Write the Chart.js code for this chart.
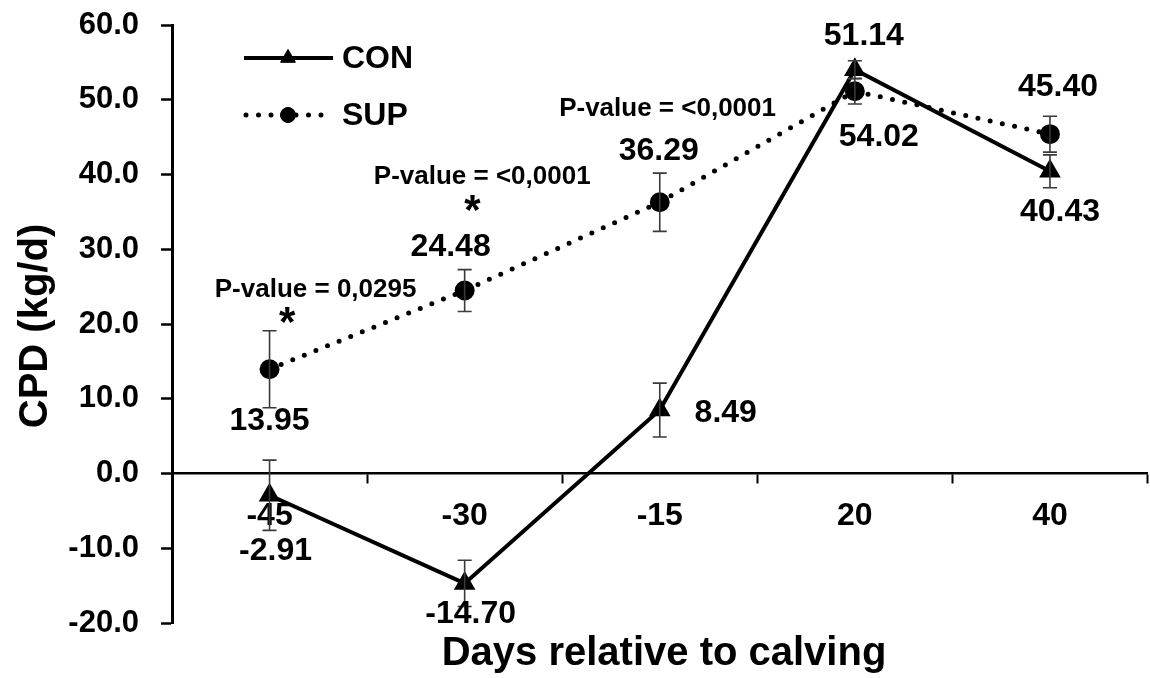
<!DOCTYPE html>
<html>
<head>
<meta charset="utf-8">
<title>CPD by days relative to calving</title>
<script src="https://cdn.jsdelivr.net/npm/chart.js@4.4.1/dist/chart.umd.min.js"></script>
<style>
  html, body { margin: 0; padding: 0; background: #fff; overflow: hidden; }
  #wrap { width: 1160px; height: 678px; }
</style>
</head>
<body>
<div id="wrap"><canvas id="cpd" width="1160" height="678"></canvas></div>
<script>
// ---- data ----
const days = ['-45', '-30', '-15', '20', '40'];
const conMean = [-2.91, -14.70, 8.49, 54.02, 40.43];
const supMean = [13.95, 24.48, 36.29, 51.14, 45.40];
const conErr = [4.7, 3.1, 3.6, 1.2, 2.2];
const supErr = [5.15, 2.8, 3.9, 1.7, 2.4];
const yTicks = [-20, -10, 0, 10, 20, 30, 40, 50, 60];
const pValueText = ['P-value = 0,0295', 'P-value = <0,0001', 'P-value = <0,0001'];

// ---- placement of value labels (pixel offsets from each point) ----
const conLabelOffset = [[6, 56], [6, 31], [66, 3], [24, 67], [10, 41]];
const supLabelOffset = [[0, 52], [-14, -43], [-1, -51], [9, -55], [8, -47]];
// P-value notes and stars: [category position, y value]
const pValuePos = [[0.236, 24.6], [1.09, 39.7], [2.04, 48.8]];
const starPos = [[0.09, 21.0], [1.04, 36.0]];

const FONT = '"Liberation Sans", Arial, Helvetica, sans-serif';
const INK = '#000';

const errorBars = {
  id: 'errorBars',
  afterDatasetsDraw(chart) {
    const { ctx, scales: { x, y } } = chart;
    const sets = [[conMean, conErr], [supMean, supErr]];
    ctx.save();
    ctx.strokeStyle = '#3a3a3a';
    ctx.lineWidth = 1.6;
    sets.forEach(([m, e]) => {
      m.forEach((v, i) => {
        const px = x.getPixelForValue(i);
        const top = y.getPixelForValue(v + e[i]);
        const bot = y.getPixelForValue(v - e[i]);
        ctx.beginPath();
        ctx.moveTo(px, top); ctx.lineTo(px, bot);
        ctx.moveTo(px - 7, top); ctx.lineTo(px + 7, top);
        ctx.moveTo(px - 7, bot); ctx.lineTo(px + 7, bot);
        ctx.stroke();
      });
    });
    ctx.restore();
  }
};

const textLayer = {
  id: 'textLayer',
  afterDraw(chart) {
    const { ctx, scales: { x, y } } = chart;
    ctx.save();
    ctx.fillStyle = INK;
    ctx.textAlign = 'center';
    ctx.textBaseline = 'middle';

    // value labels
    ctx.font = 'bold 32px ' + FONT;
    conMean.forEach((v, i) => {
      const [dx, dy] = conLabelOffset[i];
      ctx.fillText(v.toFixed(2), x.getPixelForValue(i) + dx, y.getPixelForValue(v) + dy);
    });
    supMean.forEach((v, i) => {
      const [dx, dy] = supLabelOffset[i];
      ctx.fillText(v.toFixed(2), x.getPixelForValue(i) + dx, y.getPixelForValue(v) + dy);
    });

    // P-value notes and significance stars
    ctx.font = 'bold 26px ' + FONT;
    pValueText.forEach((t, i) => {
      const [cx, cy] = pValuePos[i];
      ctx.fillText(t, x.getPixelForValue(cx), y.getPixelForValue(cy));
    });
    ctx.font = 'bold 42px ' + FONT;
    starPos.forEach(([cx, cy]) => {
      ctx.fillText('*', x.getPixelForValue(cx), y.getPixelForValue(cy) + 8);
    });

    // axis titles
    ctx.font = 'bold 40px ' + FONT;
    ctx.fillText('Days relative to calving', 664, 654);
    ctx.save();
    ctx.translate(36, 326);
    ctx.rotate(-Math.PI / 2);
    ctx.fillText('CPD (kg/d)', 0, 0);
    ctx.restore();

    // legend
    const ds = chart.data.datasets;
    const rows = [58, 115];
    ds.forEach((d, i) => {
      const ly = rows[i];
      ctx.save();
      ctx.strokeStyle = d.borderColor;
      ctx.lineWidth = d.borderWidth;
      ctx.lineCap = d.borderCapStyle || 'butt';
      ctx.setLineDash(d.borderDash || []);
      ctx.beginPath();
      ctx.moveTo(i === 0 ? 244 : 246, ly);
      ctx.lineTo(i === 0 ? 333 : 330, ly);
      ctx.stroke();
      ctx.restore();
      Chart.helpers.drawPoint(ctx, {
        pointStyle: d.pointStyle, radius: d.pointRadius, borderWidth: 1, rotation: 0
      }, 288, ly);
      ctx.fillStyle = INK;
      ctx.fill();
      ctx.font = 'bold 32px ' + FONT;
      ctx.textAlign = 'left';
      ctx.fillText(d.label, 342, ly + 1);
      ctx.textAlign = 'center';
    });
    ctx.restore();
  }
};

new Chart(document.getElementById('cpd'), {
  type: 'line',
  data: {
    labels: days,
    datasets: [
      {
        label: 'CON',
        data: conMean,
        borderColor: INK,
        backgroundColor: INK,
        borderWidth: 4,
        pointStyle: 'triangle',
        pointRadius: 8.5,
        pointBackgroundColor: INK,
        pointBorderColor: INK,
        tension: 0
      },
      {
        label: 'SUP',
        data: supMean,
        borderColor: INK,
        backgroundColor: INK,
        borderWidth: 5,
        borderDash: [0, 12.5],
        borderCapStyle: 'round',
        pointStyle: 'circle',
        pointRadius: 7.5,
        pointBackgroundColor: INK,
        pointBorderColor: INK,
        tension: 0
      }
    ]
  },
  options: {
    responsive: false,
    animation: false,
    layout: { padding: { left: 0, top: 25, right: 3, bottom: 55 } },
    plugins: { legend: { display: false }, tooltip: { enabled: false } },
    scales: {
      x: {
        type: 'category',
        position: { y: 0 },
        offset: true,
        afterFit: s => { s.height = 0; s.paddingLeft = 0; s.paddingRight = 0; },
        grid: { offset: true, drawOnChartArea: false, drawTicks: true, tickLength: 9, tickWidth: 2, tickColor: INK },
        border: { display: true, color: INK, width: 2.5 },
        ticks: { color: INK, font: { family: FONT, size: 32, weight: 'bold' }, padding: 14, maxRotation: 0 }
      },
      y: {
        min: -20,
        max: 60,
        afterBuildTicks: s => { s.ticks = yTicks.map(v => ({ value: v })); },
        afterFit: s => { s.width = 172; s.paddingTop = 0; s.paddingBottom = 0; },
        grid: { drawOnChartArea: false, drawTicks: true, tickLength: 11, tickWidth: 2.5, tickColor: INK },
        border: { display: true, color: INK, width: 3 },
        ticks: {
          color: INK,
          padding: 22,
          font: { family: FONT, size: 31, weight: 'bold' },
          callback: v => Number(v).toFixed(1)
        }
      }
    }
  },
  plugins: [errorBars, textLayer]
});
</script>
</body>
</html>
